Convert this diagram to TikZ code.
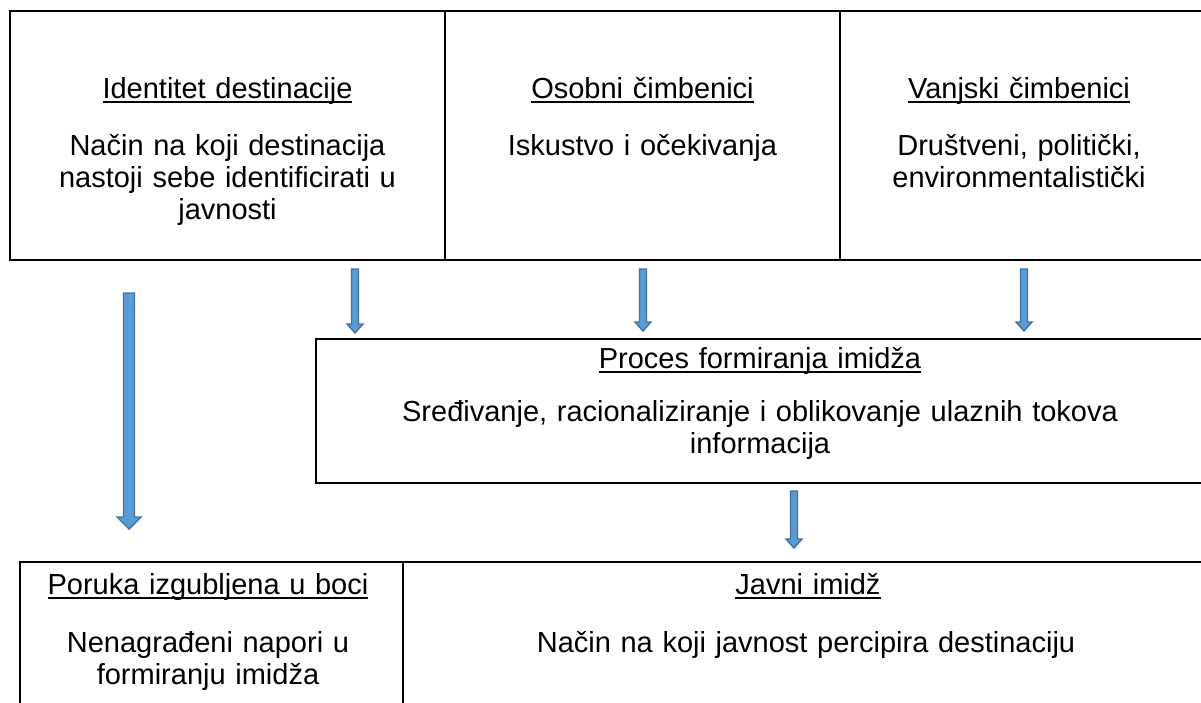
\documentclass[tikz,border=0pt]{standalone}
\usepackage{fontspec}
\setmainfont{Liberation Sans}
\definecolor{arrfill}{HTML}{5B9BD5}
\definecolor{arrline}{HTML}{41719C}
\newcommand\ulx[1]{\setbox0\hbox{#1}\rlap{\rule[-4.5pt]{\wd0}{1.8pt}}\box0}
\begin{document}
\begin{tikzpicture}[x=1pt,y=-1pt,
  boxline/.style={draw=black,line width=2pt},
  txt/.style={font=\fontsize{29}{32}\selectfont,inner sep=0pt,anchor=base,align=center,text width=440pt},
  blockarrow/.style={fill=arrfill,draw=arrline,line width=1.4pt,line join=miter}]
\useasboundingbox (0,0) rectangle (1201,702);
\clip (0,0) rectangle (1201,702);
% top row
\draw[boxline] (10,11) rectangle (1230,260);
\draw[boxline] (445,11) -- (445,260);
\draw[boxline] (840,11) -- (840,260);
% process box
\draw[boxline] (316,339) rectangle (1230,483);
% bottom row
\draw[boxline] (20,562) rectangle (1230,740);
\draw[boxline] (403,562) -- (403,740);
% texts
\node[txt] (t1) at (227.5,98) {\ulx{Identitet destinacije}};
\node[txt] (b1) at (227.5,155) {Način na koji destinacija\\nastoji sebe identificirati u\\javnosti};
\node[txt] (t2) at (642.5,98) {\ulx{Osobni čimbenici}};
\node[txt] (b2) at (642.5,155) {Iskustvo i očekivanja};
\node[txt] (t3) at (1019,98) {\ulx{Vanjski čimbenici}};
\node[txt] (b3) at (1019,155) {Društveni, politički,\\environmentalistički};
\node[txt,text width=860pt] (t4) at (760,368) {\ulx{Proces formiranja imidža}};
\node[txt,text width=860pt] (b4) at (760,421) {Sređivanje, racionaliziranje i oblikovanje ulaznih tokova\\informacija};
\node[txt] (t5) at (208,594) {\ulx{Poruka izgubljena u boci}};
\node[txt] (b5) at (208,652) {Nenagrađeni napori u\\formiranju imidža};
\node[txt,text width=760pt] (t6) at (808,594) {\ulx{Javni imidž}};
\node[txt,text width=760pt] (b6) at (806,652) {Način na koji javnost percipira destinaciju};
% block arrows: x, top, bottom, half shaft, half head, head length
\foreach \n/\x/\ya/\yb/\s/\h/\l in {a0/129/293/529/5.5/12/12, a1/355/269/333/3.5/8/9, a2/643/269/331/3.5/8/9, a3/1024/269/331/3.5/8/9, a4/794/491/548/3.5/8/9}{
  \coordinate (\n top) at (\x,\ya);
  \coordinate (\n tip) at (\x,\yb);
  \draw[blockarrow] (\x-\s,\ya) -- (\x+\s,\ya) -- (\x+\s,\yb-\l) -- (\x+\h,\yb-\l) -- (\n tip) -- (\x-\h,\yb-\l) -- (\x-\s,\yb-\l) -- cycle;
}
\end{tikzpicture}
\end{document}
